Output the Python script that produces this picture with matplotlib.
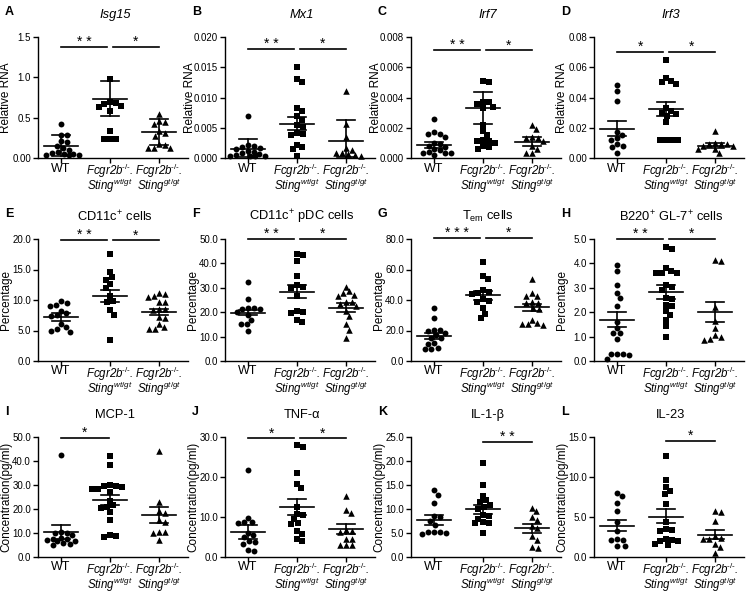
import numpy as np
import matplotlib
matplotlib.use("Agg")
import matplotlib.pyplot as plt
from matplotlib.ticker import FixedLocator

plt.rcParams['font.family'] = ['Liberation Sans', 'DejaVu Sans']
plt.rcParams['mathtext.fontset'] = 'custom'
plt.rcParams['mathtext.rm'] = 'Liberation Sans'
plt.rcParams['mathtext.it'] = 'Liberation Sans:italic'
plt.rcParams['mathtext.bf'] = 'Liberation Sans:bold'

groups = ["WT",
          "Fcgr2b$^{\\text{-/-}}$.\nSting$^{wt/gt}$",
          "Fcgr2b$^{\\text{-/-}}$.\nSting$^{gt/gt}$"]

# A  Isg15
isg15_wt = [0.42, 0.29, 0.29, 0.21, 0.20, 0.15, 0.12, 0.10, 0.07, 0.05, 0.04, 0.04, 0.04, 0.05, 0.06]
isg15_het = [0.98, 0.69, 0.68, 0.67, 0.64, 0.63, 0.58, 0.33, 0.24, 0.23, 0.23]
isg15_hom = [0.55, 0.46, 0.45, 0.42, 0.33, 0.31, 0.27, 0.17, 0.16, 0.12, 0.12, 0.13]
isg15_mean = [0.15, 0.73, 0.32]
isg15_lo = [0.02, 0.52, 0.16]
isg15_hi = [0.28, 0.95, 0.48]

# B  Mx1
mx1_wt = [0.0069, 0.0022, 0.0020, 0.0019, 0.0017, 0.0015, 0.0012, 0.0010, 0.0008, 0.0006, 0.0005, 0.0004, 0.0004, 0.0003, 0.0003]
mx1_het = [0.0151, 0.0131, 0.0126, 0.0083, 0.0078, 0.0069, 0.0063, 0.0055, 0.0052, 0.0042, 0.0040, 0.0038, 0.0022, 0.0018, 0.0015, 0.0004]
mx1_hom = [0.0111, 0.0056, 0.0034, 0.0016, 0.0013, 0.0009, 0.0008, 0.0006, 0.0005, 0.0004]
mx1_mean = [0.0015, 0.0057, 0.0028]
mx1_lo = [0.0002, 0.0046, 0.0001]
mx1_hi = [0.0032, 0.0068, 0.0063]

# C  Irf7
irf7_wt = [0.0026, 0.0017, 0.0016, 0.0016, 0.0014, 0.0010, 0.0009, 0.0008, 0.0007, 0.0006, 0.0005, 0.0004, 0.0003, 0.0003, 0.0002, 0.0003]
irf7_het = [0.0051, 0.0050, 0.0037, 0.0037, 0.0036, 0.0034, 0.0033, 0.0022, 0.0018, 0.0015, 0.0012, 0.0011, 0.0011, 0.0010, 0.0008, 0.0006, 0.0007]
irf7_hom = [0.0022, 0.0019, 0.0014, 0.0013, 0.0013, 0.0011, 0.0008, 0.0006, 0.0003, 0.0003]
irf7_mean = [0.00085, 0.0033, 0.00107]
irf7_lo = [0.00064, 0.00228, 0.00081]
irf7_hi = [0.00107, 0.00436, 0.00136]

# D  Irf3
irf3_wt = [0.048, 0.044, 0.038, 0.017, 0.015, 0.013, 0.012, 0.009, 0.008, 0.007, 0.003]
irf3_het = [0.065, 0.053, 0.051, 0.049, 0.050, 0.033, 0.031, 0.030, 0.029, 0.028, 0.024, 0.012, 0.012, 0.012, 0.012]
irf3_hom = [0.018, 0.010, 0.009, 0.009, 0.009, 0.008, 0.008, 0.006, 0.006, 0.003]
irf3_mean = [0.019, 0.0323, 0.0079]
irf3_lo = [0.0144, 0.0275, 0.0063]
irf3_hi = [0.0245, 0.037, 0.0096]

# E  CD11c+ cells
cd11c_wt = [9.8, 9.5, 9.2, 9.0, 8.2, 7.8, 7.5, 7.3, 6.0, 5.5, 5.2, 5.0, 4.8]
cd11c_het = [17.5, 14.6, 13.7, 13.3, 12.6, 12.0, 10.6, 9.8, 9.7, 8.3, 7.6, 3.5]
cd11c_hom = [11.2, 11.0, 10.6, 10.5, 9.7, 9.6, 8.6, 8.3, 8.5, 7.2, 7.0, 6.1, 5.6, 5.3, 5.2]
cd11c_mean = [7.2, 10.7, 8.0]
cd11c_lo = [6.5, 9.6, 7.5]
cd11c_hi = [7.8, 11.7, 8.6]

# F  CD11c+ pDC cells
pdc_wt = [32.5, 25.3, 21.8, 21.5, 21.6, 21.3, 20.0, 19.0, 17.0, 15.0, 15.2, 12.2]
pdc_het = [44.0, 43.3, 41.0, 34.7, 31.0, 30.5, 29.9, 26.5, 20.4, 20.0, 19.5, 16.8, 15.9]
pdc_hom = [30.4, 28.5, 27.9, 27.0, 26.5, 24.3, 24.0, 23.5, 22.5, 20.5, 18.4, 15.0, 12.9, 9.6]
pdc_mean = [19.8, 28.3, 21.8]
pdc_lo = [18.7, 25.9, 20.2]
pdc_hi = [21.1, 31.3, 23.6]

# G  Tem cells
tem_wt = [35.0, 28.0, 20.5, 20.3, 20.0, 18.5, 17.0, 15.0, 14.8, 11.5, 11.2, 8.5, 8.0, 7.8]
tem_het = [64.7, 55.7, 53.5, 46.5, 45.5, 44.5, 44.0, 40.5, 39.5, 38.8, 34.5, 31.0, 28.5]
tem_hom = [53.5, 44.3, 42.5, 42.5, 38.2, 38.5, 37.8, 34.4, 34.8, 27.2, 25.0, 24.0, 23.9, 24.0]
tem_mean = [16.4, 43.2, 35.1]
tem_lo = [14.5, 40.3, 32.7]
tem_hi = [18.4, 46.0, 37.7]

# H  B220+ GL-7+ cells
gc_wt = [3.95, 3.7, 3.1, 2.8, 2.6, 2.25, 1.6, 1.35, 1.15, 1.15, 0.9, 0.3, 0.3, 0.3, 0.25, 0.1]
gc_het = [4.67, 4.6, 3.8, 3.7, 3.6, 3.6, 3.6, 3.1, 3.05, 2.9, 2.6, 2.55, 2.3, 2.25, 2.05, 1.9, 1.7, 1.45, 1.0]
gc_hom = [4.13, 4.08, 2.2, 1.65, 1.35, 1.05, 1.0, 0.9, 0.87]
gc_mean = [1.69, 2.83, 1.99]
gc_lo = [1.39, 2.56, 1.58]
gc_hi = [2.0, 3.1, 2.41]

# I  MCP-1
mcp1_wt = [42.5, 10.5, 10.0, 9.8, 9.0, 8.0, 7.5, 7.5, 7.0, 6.8, 6.5, 6.0, 5.5, 4.8]
mcp1_het = [42.2, 38.5, 29.8, 29.5, 29.0, 28.5, 28.5, 29.5, 27.0, 23.5, 21.5, 21.0, 20.5, 18.8, 15.4, 9.0, 8.5, 8.6]
mcp1_hom = [44.2, 22.9, 19.1, 18.4, 15.4, 14.7, 10.2, 10.3, 10.5, 7.2]
mcp1_mean = [10.3, 23.6, 17.4]
mcp1_lo = [7.4, 21.6, 14.0]
mcp1_hi = [13.5, 26.0, 20.9]

# J  TNF-a
tnf_wt = [21.8, 9.8, 8.8, 8.7, 8.5, 6.0, 5.5, 4.9, 4.0, 3.8, 3.3, 1.5, 1.8]
tnf_het = [28.0, 27.6, 21.0, 18.3, 17.3, 12.5, 10.8, 10.5, 9.5, 8.5, 8.2, 6.5, 5.7, 4.5, 4.0]
tnf_hom = [15.2, 11.8, 10.9, 6.8, 6.6, 6.2, 4.6, 4.6, 3.1, 3.1, 3.1]
tnf_mean = [6.2, 12.5, 6.9]
tnf_lo = [4.6, 10.5, 5.7]
tnf_hi = [7.9, 14.6, 8.2]

# K  IL-1-b
il1b_wt = [13.9, 13.0, 11.3, 8.5, 8.3, 7.5, 6.7, 5.3, 5.2, 5.0, 5.3, 4.7]
il1b_het = [19.5, 15.1, 12.8, 11.8, 11.5, 10.8, 10.5, 10.0, 8.8, 8.5, 8.0, 7.3, 7.0, 7.0, 5.0]
il1b_hom = [10.3, 9.5, 8.3, 7.8, 6.5, 6.0, 4.3, 3.6, 2.0, 1.8]
il1b_mean = [7.7, 10.0, 6.0]
il1b_lo = [6.7, 8.9, 5.1]
il1b_hi = [8.7, 10.8, 6.9]

# L  IL-23
il23_wt = [8.0, 7.6, 6.8, 5.7, 4.4, 3.2, 2.2, 2.1, 2.1, 1.4, 1.4]
il23_het = [12.6, 9.6, 8.8, 8.3, 7.9, 6.6, 4.4, 3.5, 3.4, 3.3, 2.2, 2.1, 2.0, 2.0, 1.6, 1.5]
il23_hom = [5.7, 5.6, 4.5, 2.6, 2.4, 2.3, 2.3, 1.6, 1.2, 0.5]
il23_mean = [3.9, 5.05, 2.8]
il23_lo = [3.2, 4.23, 2.2]
il23_hi = [4.6, 5.96, 3.4]

W, H = 749, 594
fig = plt.figure(figsize=(W / 100, H / 100), dpi=100)

UNIT = 49.0          # px per category
XL = (-0.47, 2.6)
AX_W = (XL[1] - XL[0]) * UNIT
col_left = [38, 225, 411, 594]
rows = [(37, 158), (239, 361), (437, 557)]
markers = ['o', 's', '^']
PX = 0.72  # points per pixel at 100 dpi


def swarm(vals, ymax, h_px, d=5.8, cap=0.37):
    # greedy beeswarm limited to +-cap category units
    cap_px = cap * UNIT
    cands = sorted(np.arange(-cap_px, cap_px + 0.01, 0.5), key=abs)
    order = np.argsort(vals)[::-1]
    placed = []
    offs = np.zeros(len(vals))
    for i in order:
        y = vals[i] / ymax * h_px
        best, bestd = 0.0, -1.0
        for c in cands:
            md = min([np.hypot(c - px, y - py) for px, py in placed] or [99.0])
            if md >= d:
                best = c
                break
            if md > bestd:
                best, bestd = c, md
        placed.append((best, y))
        offs[i] = best / UNIT
    return offs


def panel(col, row, letter, title, ital, data, mean, lo, hi, ymax, yticks, ylabel, sigs, sig_y,
          lab_off=-32):
    top, bot = rows[row]
    left = col_left[col]
    ax = fig.add_axes([left / W, 1 - bot / H, AX_W / W, (bot - top) / H])
    h_px = bot - top
    for i, vals in enumerate(data):
        vals = np.asarray(vals)
        xs = i + swarm(vals, ymax, h_px)
        ax.scatter(xs, vals, marker=markers[i], s=18 if i < 2 else 22,
                   color='black', linewidths=0, clip_on=False, zorder=3)
        ax.plot([i - 0.34, i + 0.34], [mean[i]] * 2, color='black', lw=1.2, zorder=4,
                clip_on=False)
        ax.plot([i, i], [lo[i], hi[i]], color='black', lw=1.2, zorder=4, clip_on=False)
        for yv in (lo[i], hi[i]):
            ax.plot([i - 0.19, i + 0.19], [yv, yv], color='black', lw=1.2, zorder=4,
                    clip_on=False)
    for x0, x1, txt in sigs:
        ax.plot([x0, x1], [sig_y, sig_y], color='black', lw=1.2, clip_on=False)
        ax.annotate(txt, xy=((x0 + x1) / 2, sig_y), xytext=(0, -1.5),
                    textcoords='offset points', ha='center', va='bottom', fontsize=10,
                    annotation_clip=False)
    ax.set_xlim(*XL)
    ax.set_ylim(0, ymax)
    ax.yaxis.set_major_locator(FixedLocator([float(t) for t in yticks]))
    ax.set_yticklabels(yticks, fontsize=7)
    ax.set_xticks([0, 1, 2])
    ax.set_xticklabels([])
    for i, lab in enumerate(groups):
        kw = dict(xycoords=('data', 'axes fraction'), textcoords='offset points',
                  ha='center', va='top', annotation_clip=False)
        if i == 0:
            ax.annotate(lab, xy=(i, 0), xytext=(0, -4.5 * PX), fontsize=9, **kw)
        else:
            ax.annotate(lab, xy=(i, 0), xytext=(0, -3.5 * PX), fontsize=8.3,
                        fontstyle='italic', linespacing=0.8, **kw)
    for s in ('top', 'right'):
        ax.spines[s].set_visible(False)
    for s in ('left', 'bottom'):
        ax.spines[s].set_linewidth(1.0)
    ax.tick_params(direction='out', length=3.5, width=1.0, pad=1.5)
    ax.set_ylabel(ylabel, fontsize=8.5)
    ax.yaxis.set_label_coords(lab_off / AX_W, 0.5)
    ax.yaxis.label.set_verticalalignment('center')
    ax.annotate(title, xy=(1.1, 1), xycoords=('data', 'axes fraction'), xytext=(0, 16),
                textcoords='offset points', ha='center', va='center', fontsize=9.3,
                fontstyle='italic' if ital else 'normal', annotation_clip=False)
    fig.text((left - 33) / W, 1 - (top - 25) / H, letter, fontsize=9, fontweight='bold',
             ha='left', va='center')
    return ax


both = lambda a, b: [(0, 0.94, a), (1.06, 2.0, b)]

panel(0, 0, 'A', 'Isg15', True, [isg15_wt, isg15_het, isg15_hom], isg15_mean, isg15_lo, isg15_hi,
      1.5, ['0.00', '0.5', '1.0', '1.5'], 'Relative RNA', both('* *', '*'), 1.38)
panel(1, 0, 'B', 'Mx1', True, [mx1_wt, mx1_het, mx1_hom], mx1_mean, mx1_lo, mx1_hi,
      0.02, ['0.000', '0.005', '0.010', '0.015', '0.020'], 'Relative RNA', both('* *', '*'), 0.018,
      lab_off=-35)
panel(2, 0, 'C', 'Irf7', True, [irf7_wt, irf7_het, irf7_hom], irf7_mean, irf7_lo, irf7_hi,
      0.008, ['0.000', '0.002', '0.004', '0.006', '0.008'], 'Relative RNA', both('* *', '*'), 0.00712,
      lab_off=-35)
panel(3, 0, 'D', 'Irf3', True, [irf3_wt, irf3_het, irf3_hom], irf3_mean, irf3_lo, irf3_hi,
      0.08, ['0.00', '0.02', '0.04', '0.06', '0.08'], 'Relative RNA', both('*', '*'), 0.0704)

panel(0, 1, 'E', 'CD11c$^{+}$ cells', False, [cd11c_wt, cd11c_het, cd11c_hom], cd11c_mean, cd11c_lo,
      cd11c_hi, 20, ['0.0', '5.0', '10.0', '15.0', '20.0'], 'Percentage', both('* *', '*'), 19.8)
panel(1, 1, 'F', 'CD11c$^{+}$ pDC cells', False, [pdc_wt, pdc_het, pdc_hom], pdc_mean, pdc_lo, pdc_hi,
      50, ['0.0', '10.0', '20.0', '30.0', '40.0', '50.0'], 'Percentage', both('* *', '*'), 50)
panel(2, 1, 'G', 'T$_{\\text{em}}$ cells', False, [tem_wt, tem_het, tem_hom], tem_mean, tem_lo, tem_hi,
      80, ['0.0', '20.0', '40.0', '60.0', '80.0'], 'Percentage', both('* * *', '*'), 80.9)
panel(3, 1, 'H', 'B220$^{+}$ GL-7$^{+}$ cells', False, [gc_wt, gc_het, gc_hom], gc_mean, gc_lo, gc_hi,
      5, ['0.0', '1.0', '2.0', '3.0', '4.0', '5.0'], 'Percentage', both('* *', '*'), 5.0)

panel(0, 2, 'I', 'MCP-1', False, [mcp1_wt, mcp1_het, mcp1_hom], mcp1_mean, mcp1_lo, mcp1_hi,
      50, ['0.0', '10.0', '20.0', '30.0', '40.0', '50.0'], 'Concentration(pg/ml)', [(0, 0.97, '*')], 49.7)
panel(1, 2, 'J', 'TNF-α', False, [tnf_wt, tnf_het, tnf_hom], tnf_mean, tnf_lo, tnf_hi,
      30, ['0.0', '10.0', '20.0', '30.0'], 'Concentration(pg/ml)', both('*', '*'), 29.7)
panel(2, 2, 'K', 'IL-1-β', False, [il1b_wt, il1b_het, il1b_hom], il1b_mean, il1b_lo, il1b_hi,
      25, ['0.0', '5.0', '10.0', '15.0', '20.0', '25.0'], 'Concentration(pg/ml)', [(1.0, 2.0, '* *')], 24.0)
panel(3, 2, 'L', 'IL-23', False, [il23_wt, il23_het, il23_hom], il23_mean, il23_lo, il23_hi,
      15, ['0.0', '5.0', '10.0', '15.0'], 'Concentration(pg/ml)', [(1.0, 2.0, '*')], 14.5)

fig.savefig('out.png', dpi=100)
